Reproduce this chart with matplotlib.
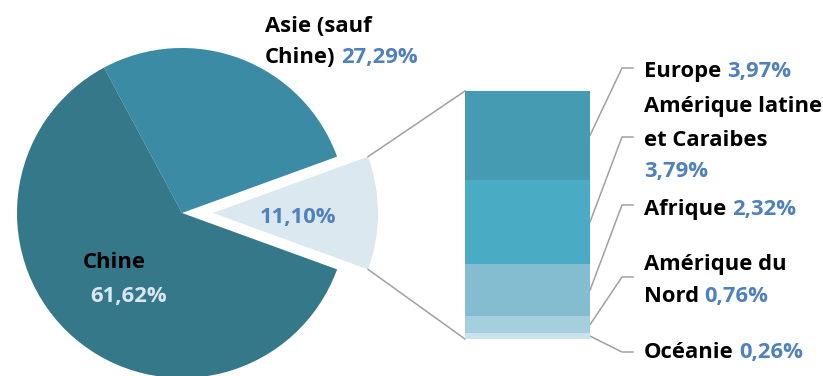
import numpy as np
import matplotlib.pyplot as plt

plt.rcParams["font.family"] = ["Open Sans", "DejaVu Sans"]

# --- data -------------------------------------------------------------------
pie_labels = ["Autres", "Asie (sauf Chine)", "Chine"]
pie_values = [11.10, 27.29, 61.62]
pie_colors = ["#dbe8ef", "#3a8ba3", "#34788a"]

bar_labels = ["Océanie", "Amérique du Nord", "Afrique", "Amérique latine et Caraibes", "Europe"]
bar_values = [0.26, 0.76, 2.32, 3.79, 3.97]
bar_colors = ["#c8e3ea", "#a5cfdc", "#84bdcf", "#4aabc4", "#449bb2"]

W, H = 823, 376
C_BLUE = "#4f81bd"
C_LINE = "#a0a0a0"
FS = 15.8

fig = plt.figure(figsize=(W / 100, H / 100), dpi=100)
ax = fig.add_axes([0, 0, 1, 1])

# --- pie (axes in pixel units, y pointing down) ------------------------------
wedges, _ = ax.pie(pie_values, colors=pie_colors, center=(182, 213), radius=165,
                   startangle=pie_values[0] * 3.6 / 2, counterclock=False,
                   explode=[31, 0, 0], wedgeprops=dict(linewidth=0))
ax.set_xlim(0, W)
ax.set_ylim(H, 0)
ax.axis("off")

# --- stacked bar ------------------------------------------------------------
axb = fig.add_axes([465 / W, (H - 339) / H, 125 / W, 248 / H])
bottom = 0.0
mids = []
for v, c in zip(bar_values, bar_colors):
    axb.bar(0, v, bottom=bottom, width=1.0, color=c, linewidth=0)
    mids.append(bottom + v / 2)
    bottom += v
axb.set_xlim(-0.5, 0.5)
axb.set_ylim(0, sum(bar_values))
axb.axis("off")

# connection lines between the exploded wedge and the bar
to_px = ax.transData.inverted()
w0 = wedges[0]
cx, cy = w0.center
corners = []
for ang in (w0.theta1, w0.theta2):
    corners.append((cx + w0.r * np.cos(np.deg2rad(ang)),
                    cy + w0.r * np.sin(np.deg2rad(ang))))
corners.sort(key=lambda p: p[1])  # upper corner first (y axis points down)
for (px, py), yb in zip(corners, (sum(bar_values), 0.0)):
    bx, by = to_px.transform(axb.transData.transform((-0.5, yb)))
    ax.plot([px, bx], [py, by], color=C_LINE, linewidth=1.1)

# leader lines from bar segments to labels
elbow_y = [352, 277, 205, 137, 68]
for m, ey in zip(mids, elbow_y):
    bx, by = to_px.transform(axb.transData.transform((0.5, m)))
    ax.plot([bx, 622, 633], [by, ey, ey], color=C_LINE, linewidth=1.1)


def label(x, y, name, pct=None, name_color="black", ha="left"):
    t = ax.text(x, y, name, color=name_color, fontsize=FS, fontweight="bold",
                ha=ha, va="baseline")
    if pct is not None:
        ax.annotate(pct, xy=(1, 0), xycoords=t, xytext=(4, 0), textcoords="offset points",
                    color=C_BLUE, fontsize=FS, fontweight="bold", ha="left", va="bottom")
    return t


def fmt(v):
    return f"{v:.2f}".replace(".", ",") + "%"


# pie labels
label(265, 32, "Asie (sauf")
label(265, 63, "Chine)", fmt(pie_values[1]))
label(83, 268, "Chine")
ax.text(90, 302, fmt(pie_values[2]), color="#dbe6f0", fontsize=FS, fontweight="bold",
        ha="left", va="baseline")
ax.text(298, 223, fmt(pie_values[0]), color=C_BLUE, fontsize=FS, fontweight="bold",
        ha="center", va="baseline")

# bar labels
x0 = 644
label(x0, 77, "Europe", fmt(bar_values[4]))
label(x0, 112, "Amérique latine")
label(x0, 146, "et Caraibes")
ax.text(x0, 177, fmt(bar_values[3]), color=C_BLUE, fontsize=FS, fontweight="bold",
        ha="left", va="baseline")
label(x0, 215, "Afrique", fmt(bar_values[2]))
label(x0, 270, "Amérique du")
label(x0, 302, "Nord", fmt(bar_values[1]))
label(x0, 358, "Océanie", fmt(bar_values[0]))

fig.savefig("out.png", dpi=100, facecolor="white")
